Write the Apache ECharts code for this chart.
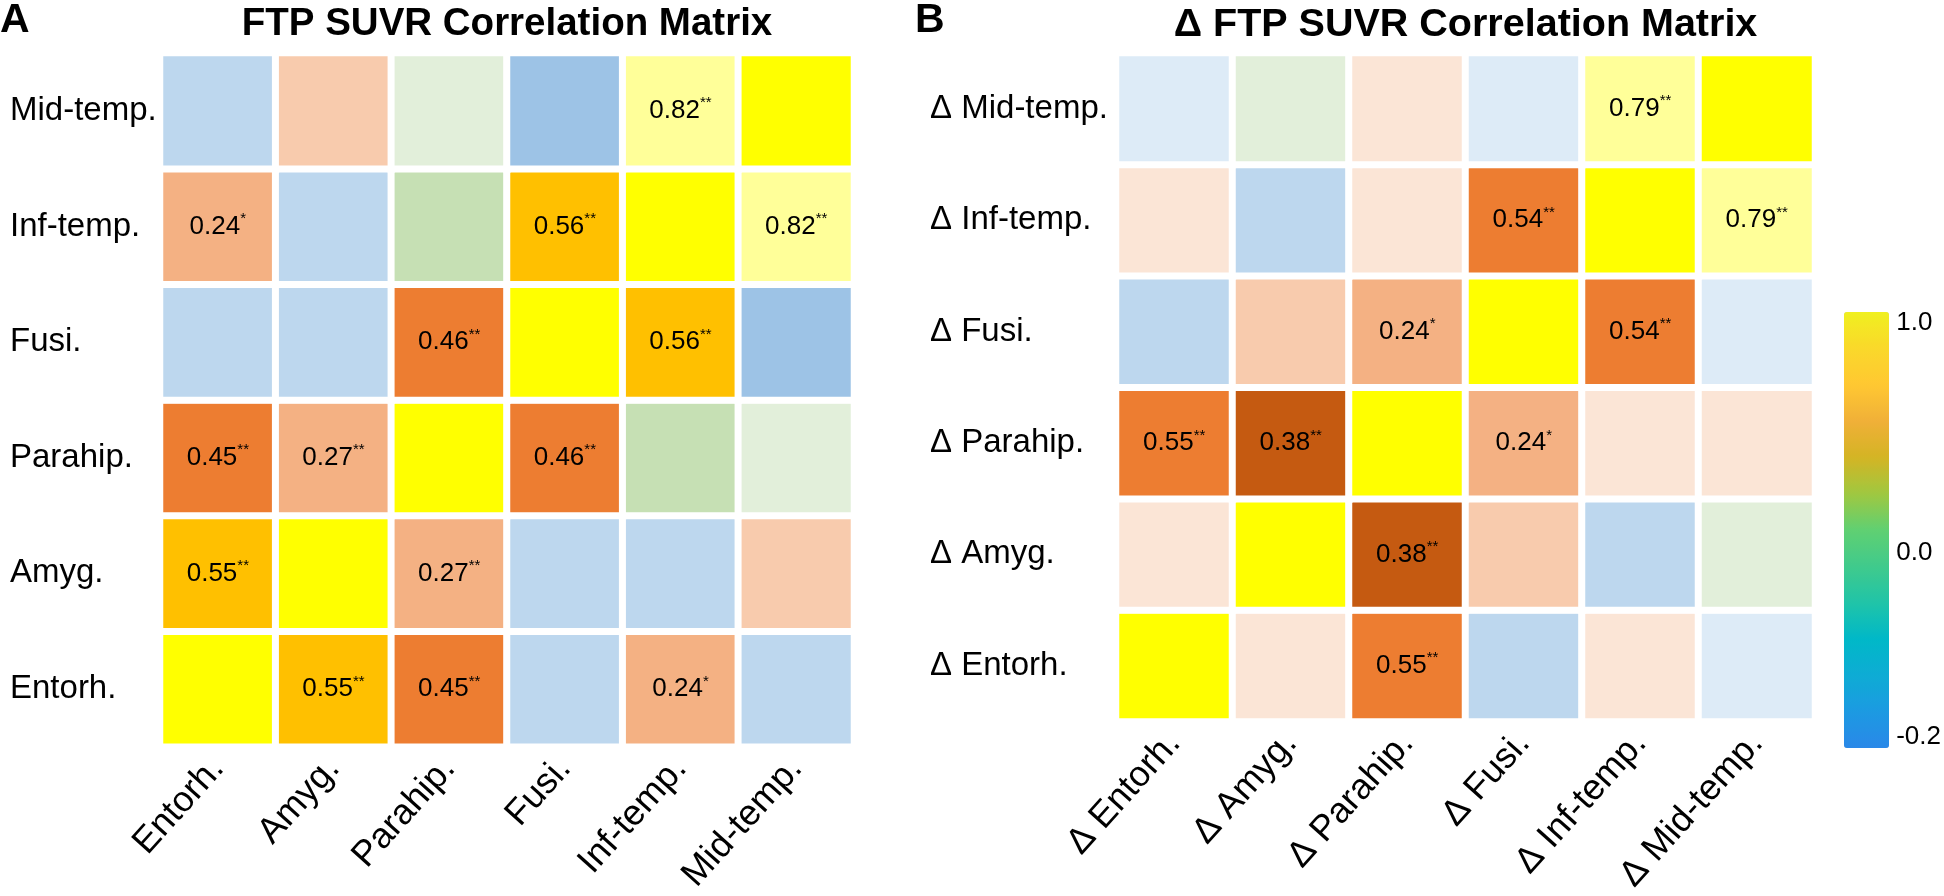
<!DOCTYPE html>
<html><head><meta charset="utf-8">
<script src="https://cdn.jsdelivr.net/npm/echarts@6/dist/echarts.min.js"></script>
<style>html,body{margin:0;padding:0;background:#fff}#c{width:1944px;height:896px}</style>
</head><body><div id="c"></div>
<script>
// ---------- DATA ----------
const regionsA = ['Entorh.', 'Amyg.', 'Parahip.', 'Fusi.', 'Inf-temp.', 'Mid-temp.'];
const regionsB = ['Δ Entorh.', 'Δ Amyg.', 'Δ Parahip.', 'Δ Fusi.', 'Δ Inf-temp.', 'Δ Mid-temp.'];
// rows/cols in region order (Entorh, Amyg, Parahip, Fusi, Inf-temp, Mid-temp); unlabeled cells estimated
const corrA = [
  [1.00, 0.55, 0.45, -0.06, 0.24, -0.06],
  [0.55, 1.00, 0.27, -0.06, -0.06, 0.16],
  [0.45, 0.27, 1.00, 0.46, 0.09, 0.03],
  [-0.06, -0.06, 0.46, 1.00, 0.56, -0.14],
  [0.24, -0.06, 0.09, 0.56, 1.00, 0.82],
  [-0.06, 0.16, 0.03, -0.14, 0.82, 1.00]
];
const starsA = [
  ['', '**', '**', '', '*', ''],
  ['**', '', '**', '', '', ''],
  ['**', '**', '', '**', '', ''],
  ['', '', '**', '', '**', ''],
  ['*', '', '', '**', '', '**'],
  ['', '', '', '', '**', '']
];
const corrB = [
  [1.00, 0.07, 0.55, -0.09, 0.07, -0.03],
  [0.07, 1.00, 0.38, 0.15, -0.09, 0.02],
  [0.55, 0.38, 1.00, 0.24, 0.07, 0.07],
  [-0.09, 0.15, 0.24, 1.00, 0.54, -0.03],
  [0.07, -0.09, 0.07, 0.54, 1.00, 0.79],
  [-0.03, 0.02, 0.07, -0.03, 0.79, 1.00]
];
const starsB = [
  ['', '', '**', '', '', ''],
  ['', '', '**', '', '', ''],
  ['**', '**', '', '*', '', ''],
  ['', '', '*', '', '**', ''],
  ['', '', '', '**', '', '**'],
  ['', '', '', '', '**', '']
];
// colour classes of each panel (lower bound, upper bound, colour)
const piecesA = [
  [-1, -0.1, '#9DC3E6'], [-0.1, 0, '#BDD7EE'], [0, 0.06, '#E2EFDA'], [0.06, 0.12, '#C6E0B4'],
  [0.12, 0.2, '#F8CBAD'], [0.2, 0.35, '#F4B183'], [0.35, 0.5, '#ED7D31'], [0.5, 0.7, '#FFC000'],
  [0.7, 0.95, '#FFFF99'], [0.95, 1.01, '#FFFF00']
];
const piecesB = [
  [-1, -0.06, '#BDD7EE'], [-0.06, 0, '#DDEBF7'], [0, 0.05, '#E2EFDA'], [0.05, 0.11, '#FBE5D6'],
  [0.11, 0.2, '#F8CBAD'], [0.2, 0.3, '#F4B183'], [0.3, 0.45, '#C55A11'], [0.45, 0.7, '#ED7D31'],
  [0.7, 0.95, '#FFFF99'], [0.95, 1.01, '#FFFF00']
];
const colorbarLabels = ['-0.2', '0.0', '1.0'];
const colorbarLabelPos = [0.025, 0.447, 0.975];
const colorbarColors = ['#2A88E8', '#1C9AE2', '#0EACD4', '#00B8C8', '#20C4A8', '#40CA8C', '#60D072',
  '#A0C840', '#D4B424', '#F0B038', '#FFC832', '#FAD82A', '#F0F020'];

// ---------- BUILD ----------
const FONT = '"Liberation Sans", Arial, Helvetica, sans-serif';
function cells(corr, stars) {
  const out = [];
  for (let r = 0; r < corr.length; r++)
    for (let c = 0; c < corr[r].length; c++)
      out.push([c, r, corr[r][c], stars[r][c]]);
  return out;
}
function pieces(p) { return p.map(d => ({ gte: d[0], lt: d[1], color: d[2] })); }
const cellLabel = {
  show: true,
  formatter: p => p.data[3] ? '{v|' + p.data[2].toFixed(2) + '}{s|' + p.data[3] + '}' : '',
  rich: {
    v: { fontSize: 26, fontFamily: FONT, color: '#000', lineHeight: 30 },
    s: { fontSize: 15, fontFamily: FONT, color: '#000', lineHeight: 15, verticalAlign: 'top' }
  }
};
function xAx(idx, data) {
  return { type: 'category', gridIndex: idx, data: data,
    axisLine: { show: false }, axisTick: { show: false }, splitLine: { show: false },
    axisLabel: { rotate: 48, interval: 0, fontSize: 36, fontFamily: FONT, color: '#000', margin: 16 } };
}
function yAx(idx, data, margin) {
  return { type: 'category', gridIndex: idx, data: data,
    axisLine: { show: false }, axisTick: { show: false }, splitLine: { show: false },
    axisLabel: { interval: 0, fontSize: 33, fontFamily: FONT, color: '#000', align: 'left', margin: margin } };
}
const gA = { left: 160, top: 53, width: 694, height: 699 };
const gB = { left: 1116, top: 53, width: 699, height: 699 };
const gC = { left: 1844, top: 312, width: 45, height: 436 };

const option = {
  backgroundColor: '#fff',
  animation: false,
  grid: [gA, gB, gC],
  xAxis: [xAx(0, regionsA), xAx(1, regionsB),
    { type: 'value', gridIndex: 2, show: false, min: 0, max: 1 }],
  yAxis: [yAx(0, regionsA, gA.left - 10), yAx(1, regionsB, gB.left - 930),
    { type: 'value', gridIndex: 2, min: 0, max: 1, position: 'right',
      axisLine: { show: false }, axisTick: { show: false }, splitLine: { show: false },
      axisLabel: { customValues: colorbarLabelPos, margin: 11, fontSize: 26, fontFamily: FONT, color: '#000',
        formatter: v => colorbarLabels[colorbarLabelPos.indexOf(v)] } }],
  visualMap: [
    { type: 'piecewise', show: false, seriesIndex: 0, dimension: 2, pieces: pieces(piecesA) },
    { type: 'piecewise', show: false, seriesIndex: 1, dimension: 2, pieces: pieces(piecesB) },
    { type: 'continuous', seriesIndex: 2, min: 0, max: 1, calculable: false, padding: 0,
      left: gC.left, top: gC.top, itemWidth: gC.width, itemHeight: gC.height,
      inRange: { color: colorbarColors }, text: null, hoverLink: false }
  ],
  graphic: [
    { type: 'text', left: 0, top: 0, style: { text: 'A', fontSize: 41, fontWeight: 'bold', fontFamily: FONT, fill: '#000' } },
    { type: 'text', left: 915, top: 0, style: { text: 'B', fontSize: 41, fontWeight: 'bold', fontFamily: FONT, fill: '#000' } },
    { type: 'text', x: gA.left + gA.width / 2, y: 5, style: { text: 'FTP SUVR Correlation Matrix', fontSize: 38.5, fontWeight: 'bold', fontFamily: FONT, fill: '#000', align: 'center', verticalAlign: 'top' } },
    { type: 'text', x: gB.left + gB.width / 2, y: 5, style: { text: 'Δ FTP SUVR Correlation Matrix', fontSize: 39.5, fontWeight: 'bold', fontFamily: FONT, fill: '#000', align: 'center', verticalAlign: 'top' } }
  ],
  series: [
    { type: 'heatmap', xAxisIndex: 0, yAxisIndex: 0, data: cells(corrA, starsA),
      itemStyle: { borderColor: '#fff', borderWidth: 7 }, label: cellLabel, emphasis: { disabled: true } },
    { type: 'heatmap', xAxisIndex: 1, yAxisIndex: 1, data: cells(corrB, starsB),
      itemStyle: { borderColor: '#fff', borderWidth: 7 }, label: cellLabel, emphasis: { disabled: true } },
    { type: 'line', xAxisIndex: 2, yAxisIndex: 2, data: [], silent: true }
  ]
};
const chart = echarts.init(document.getElementById('c'), null, { renderer: 'canvas' });
chart.setOption(option);
</script>
</body></html>
